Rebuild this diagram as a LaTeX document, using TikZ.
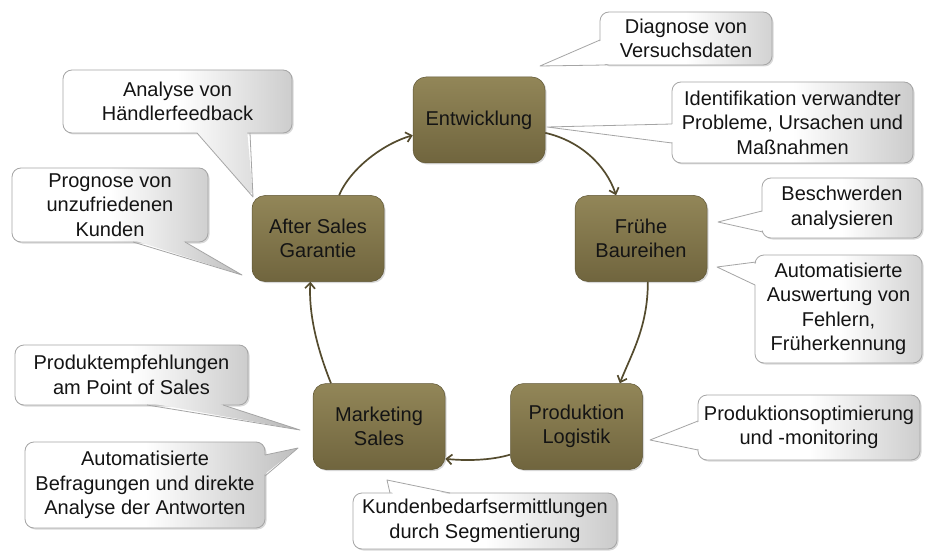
\documentclass[tikz,border=0pt]{standalone}
\usepackage{fontspec}
\setmainfont{Liberation Sans}
\usetikzlibrary{calc,arrows.meta,shadows}
\definecolor{olivetop}{RGB}{146,134,88}
\definecolor{olivebot}{RGB}{112,101,62}
\definecolor{arrowcol}{RGB}{84,75,46}
\definecolor{cbord}{RGB}{165,165,165}
\newcommand{\dfont}{\fontsize{20}{24.5}\selectfont}
\tikzset{
  mainbox/.style={rectangle, rounded corners=13pt, minimum width=132pt, minimum height=86pt,
    align=center, font=\dfont, text=black!92, top color=olivetop, bottom color=olivebot,
    draw=olivebot!85!black, line width=0.5pt,
    drop shadow={shadow xshift=1.5pt, shadow yshift=-1.5pt, opacity=0.3}},
  flow/.style={draw=arrowcol, line width=1.7pt, -{Straight Barb[length=5.5pt,width=10pt]}},
  cshade/.style={left color=white, right color=black!30, middle color=white},
  cborder/.style={draw=cbord, line width=0.8pt},
  ctext/.style={align=center, font=\dfont, text=black!92, inner sep=0pt},
}
% #1 name, #2 x1, #3 y1, #4 x2, #5 y2, #6 base1, #7 tip, #8 base2, #9 text
\newcommand{\mycallout}[9]{%
  \coordinate (#1-c) at ($(#2,#3)!0.5!(#4,#5)$);
  \coordinate (#1-b1) at (#6);
  \coordinate (#1-tip) at (#7);
  \coordinate (#1-b2) at (#8);
  \coordinate (#1-i1) at ($(#1-b1)!3pt!(#1-c)$);
  \coordinate (#1-i2) at ($(#1-b2)!3pt!(#1-c)$);
  \fill[black, opacity=0.15, rounded corners=9pt] ($(#2,#3)+(1.5,1.5)$) rectangle ($(#4,#5)+(1.5,1.5)$);
  \begin{scope}
    \clip[rounded corners=9pt] (#2,#3) rectangle (#4,#5);
    \shade[cshade] ($(#2,#3)-(60,60)$) rectangle ($(#4,#5)+(60,60)$);
  \end{scope}
  \draw[cborder, rounded corners=9pt] (#2,#3) rectangle (#4,#5);
  \begin{scope}
    \clip (#1-i1) -- (#1-tip) -- (#1-i2) -- cycle;
    \shade[cshade] ($(#2,#3)-(60,60)$) rectangle ($(#4,#5)+(60,60)$);
  \end{scope}
  \draw[cborder, line join=round] (#1-b1) -- (#1-tip) -- (#1-b2);
  \node[ctext] (#1) at (#1-c) {#9};
}
\begin{document}
\begin{tikzpicture}[x=1pt, y=-1pt]
\useasboundingbox (0,0) rectangle (925,553);
\fill[white] (0,0) rectangle (925,553);

% callouts
\mycallout{diag}{600}{12}{772}{65}{600,40}{540,66}{606,65}{Diagnose von\\Versuchsdaten}
\mycallout{ident}{672}{82}{913}{163}{672,124}{547,127}{672,143}{Identifikation verwandter\\Probleme, Ursachen und\\Maßnahmen}
\mycallout{besch}{762}{178}{922}{238}{762,211}{718,222}{763,232}{Beschwerden\\analysieren}
\mycallout{ausw}{755}{255}{922}{363}{756,262}{717,267}{755,285}{Automatisierte\\Auswertung von\\Fehlern,\\Früherkennung}
\mycallout{popt}{698}{395}{920}{460}{698,421}{650,440}{698,450}{Produktionsoptimierung\\und -monitoring}
\mycallout{kund}{353}{493}{617}{549}{390,493}{387,480}{450,493}{Kundenbedarfsermittlungen\\durch Segmentierung}
\mycallout{pemp}{15}{345}{248}{405}{147,405}{300,430}{223,405}{Produktempfehlungen\\am Point of Sales}
\mycallout{befr}{25}{442}{265}{528}{265,455}{298,448}{265,476}{Automatisierte\\Befragungen und direkte\\Analyse der Antworten}
\mycallout{haend}{63}{70}{292}{133}{197,133}{253,197}{250,133}{Analyse von\\Händlerfeedback}
\mycallout{progn}{12}{168}{208}{242}{133,242}{242,275}{185,242}{Prognose von\\unzufriedenen\\Kunden}

% main process boxes
\node[mainbox] (ent) at (479,120) {Entwicklung};
\node[mainbox] (fru) at (641,238.5) {Frühe\\Baureihen};
\node[mainbox] (pro) at (576.5,426.5) {Produktion\\Logistik};
\node[mainbox] (mar) at (379,426.5) {Marketing\\Sales};
\node[mainbox] (aft) at (318,238.5) {After Sales\\Garantie};

% cycle arrows
\draw[flow] (ent.-11) .. controls +(35,8) and +(-10,-30) .. (fru.120);
\draw[flow] (fru.-81) .. controls +(0,45) and +(12,-30) .. (pro.45);
\draw[flow] (pro.203) .. controls +(-20,6) and +(20,2) .. (mar.-26);
\draw[flow] (mar.138) .. controls +(-12,-30) and +(-2,35) .. (aft.-100);
\draw[flow] (aft.64) .. controls +(12,-28) and +(-28,8) .. (ent.193);
\end{tikzpicture}
\end{document}
